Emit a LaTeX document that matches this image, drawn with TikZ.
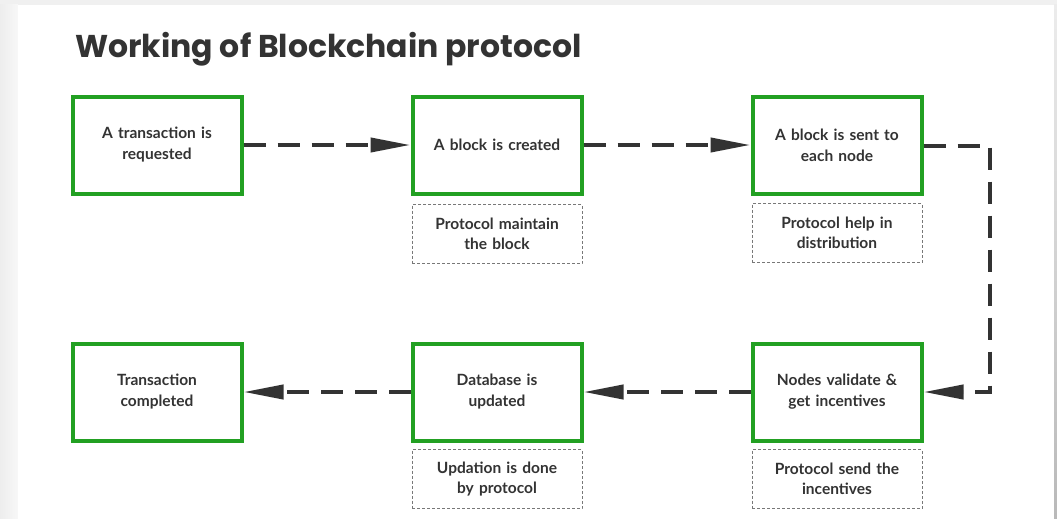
\documentclass[tikz,border=0pt]{standalone}
\usepackage{fontspec}
\setmainfont{Lato}
\newfontfamily\titlefont{Poppins}
\usetikzlibrary{arrows.meta}
\definecolor{boxgreen}{RGB}{34,160,34}
\definecolor{txt}{RGB}{51,51,51}
\definecolor{dashgray}{RGB}{120,120,120}
\tikzset{
  mainbox/.style={draw=boxgreen, line width=4pt, fill=white, minimum width=169pt, minimum height=97pt,
    text width=165pt, align=center, font=\fontsize{15.5pt}{21pt}\selectfont\bfseries, text=txt, inner sep=0pt},
  notebox/.style={draw=dashgray, line width=0.8pt, dash pattern=on 3pt off 2pt, minimum width=170pt, minimum height=59pt,
    text width=165pt, align=center, font=\fontsize{15.5pt}{20pt}\selectfont\bfseries, text=txt, inner sep=0pt},
  conn/.style={draw=txt, line width=4pt, dash pattern=on 22pt off 12pt, -{Triangle[length=40pt,width=14pt]}}
}
\begin{document}
\begin{tikzpicture}[x=1pt,y=-1pt]
\useasboundingbox (0,0) rectangle (1057,519);
\fill[gray!12] (0,0) rectangle (1057,519);
\shade[left color=gray!14, right color=gray!6] (0,5) rectangle (18,519);
\shade[top color=gray!15, bottom color=gray!55] (1054,5) rectangle (1057,519);
\fill[white] (18,5) rectangle (1054,519);
\node[anchor=base west, font=\titlefont\fontsize{31.5pt}{36pt}\selectfont\bfseries, text=txt, inner sep=0pt] (title) at (75,58) {Working of Blockchain protocol};
\node[mainbox] (b1) at (157,145) {A transaction is\\requested};
\node[mainbox] (b2) at (497,145) {A block is created};
\node[mainbox] (b3) at (837,145) {A block is sent to\\each node};
\node[mainbox] (b4) at (157,392) {Transaction\\completed};
\node[mainbox] (b5) at (497,392) {Database is\\updated};
\node[mainbox] (b6) at (837,392) {Nodes validate \&\\get incentives};
\node[notebox] (n2) at (497,234) {Protocol maintain\\the block};
\node[notebox] (n3) at (837,233) {Protocol help in\\distribution};
\node[notebox] (n5) at (497,479) {Updation is done\\by protocol};
\node[notebox] (n6) at (837,479) {Protocol send the\\incentives};
\coordinate (c1) at (990,146);
\coordinate (c2) at (990,392);
\draw[conn] (b1.east) -- (b2.west);
\draw[conn] (b2.east) -- (b3.west);
\draw[conn] (b3.east |- c1) -- (c1) -- (c2) -- (b6.east);
\draw[conn] (b6.west) -- (b5.east);
\draw[conn] (b5.west) -- (b4.east);
\end{tikzpicture}
\end{document}
